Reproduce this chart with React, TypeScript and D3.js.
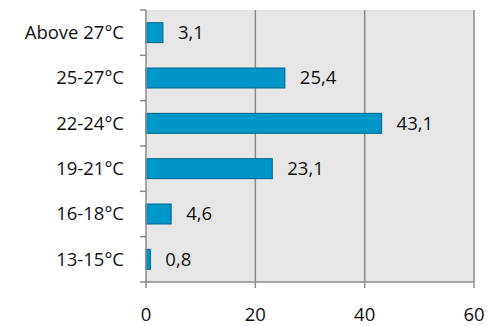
import React from "react";
import * as d3 from "d3";

const categories = ["Above 27°C", "25-27°C", "22-24°C", "19-21°C", "16-18°C", "13-15°C"];
const values = [3.1, 25.4, 43.1, 23.1, 4.6, 0.8];
const xTicks = [0, 20, 40, 60];

export default function App() {
  const W = 489, H = 326;
  const left = 146, right = 474, top = 10, bottom = 282;
  const x = d3.scaleLinear().domain([0, 60]).range([left, right]);
  const y = d3.scaleBand().domain(categories).range([top, bottom]).paddingInner(0.56).paddingOuter(0.28);
  const band = d3.scaleBand().domain(categories).range([top, bottom]);
  const font = "'Open Sans', 'Noto Sans', sans-serif";
  const fs = 18.5;
  const fmt = (v: number) => v.toFixed(1).replace(".", ",");
  return (
    <svg width={W} height={H} style={{ position: "absolute", left: 0, top: 0 }}>
      <rect x={left} y={top} width={right - left} height={bottom - top} fill="#e6e6e6" />
      {xTicks.slice(1).map((t) => (
        <line key={t} x1={x(t)} x2={x(t)} y1={top} y2={bottom} stroke="#8c8c8c" strokeWidth={1.5} />
      ))}
      {categories.map((c, i) => (
        <g key={c}>
          <rect
            x={x(0)}
            y={y(c)!}
            width={x(values[i]) - x(0)}
            height={y.bandwidth()}
            fill="#0096c8"
            stroke="#00628a"
            strokeWidth={1}
          />
          <text x={x(values[i]) + 15} y={y(c)! + y.bandwidth() / 2} dy="0.35em" fontFamily={font} fontSize={fs} fill="#111">
            {fmt(values[i])}
          </text>
          <text x={124} y={band(c)! + band.bandwidth() / 2} dy="0.35em" textAnchor="end" fontFamily={font} fontSize={fs} fill="#111">
            {c}
          </text>
        </g>
      ))}
      {/* left axis */}
      <line x1={left} x2={left} y1={top} y2={bottom} stroke="#8c8c8c" strokeWidth={1.5} />
      {[...categories.map((c) => band(c)!), bottom].map((v, i) => (
        <line key={i} x1={left - 6} x2={left} y1={v} y2={v} stroke="#8c8c8c" strokeWidth={1.5} />
      ))}
      {/* bottom axis */}
      <line x1={left} x2={right} y1={bottom} y2={bottom} stroke="#8c8c8c" strokeWidth={1.5} />
      {xTicks.map((t) => (
        <g key={t}>
          <line x1={x(t)} x2={x(t)} y1={bottom} y2={bottom + 6} stroke="#8c8c8c" strokeWidth={1.5} />
          <text x={x(t)} y={321} textAnchor="middle" fontFamily={font} fontSize={fs} fill="#111">
            {t}
          </text>
        </g>
      ))}
    </svg>
  );
}
